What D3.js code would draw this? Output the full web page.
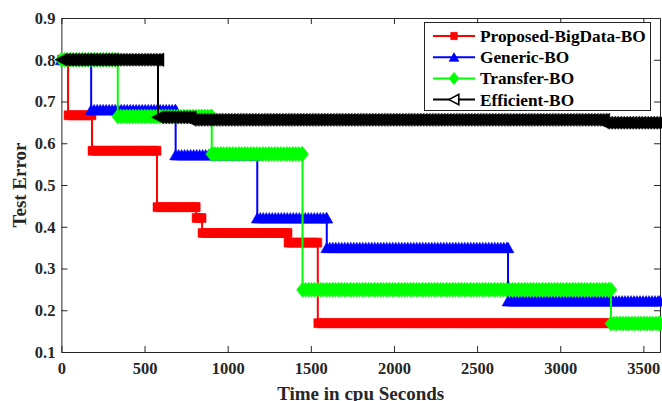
<!DOCTYPE html>
<html>
<head>
<meta charset="utf-8">
<script src="https://cdn.jsdelivr.net/npm/d3@7"></script>
<style>
  body { margin: 0; background: #fff; }
  svg { display: block; font-family: 'Liberation Serif', 'Times New Roman', serif; font-weight: bold; }
</style>
</head>
<body>
<div id="chart"></div>
<script>
// step changes of each run: time (cpu s) where a new best test error starts
const redTimes = [0, 40, 184, 575, 810, 846, 1363, 1542]
const redErrors = [0.80, 0.667, 0.582, 0.447, 0.421, 0.385, 0.362, 0.169]

const blueTimes = [0, 179, 687, 1178, 1596, 2686]
const blueErrors = [0.80, 0.68, 0.572, 0.421, 0.350, 0.222]

const greenTimes = [0, 339, 904, 1450, 3305]
const greenErrors = [0.80, 0.664, 0.574, 0.249, 0.168]

const blackTimes = [0, 581, 775, 3262]
const blackErrors = [0.80, 0.662, 0.656, 0.649]

const endTime = 3600
const xTicks = [0, 500, 1000, 1500, 2000, 2500, 3000, 3500]
const yTicks = [0.1, 0.2, 0.3, 0.4, 0.5, 0.6, 0.7, 0.8, 0.9]

const seriesNames = ['Proposed-BigData-BO', 'Generic-BO', 'Transfer-BO', 'Efficient-BO']

const width = 662
const height = 401
const margin = { top: 18, right: 2, bottom: 49, left: 61.4 }

// marker shapes, centred on 0,0
const markerPaths = {
  square: 'M-4,-4.5H4V4.5H-4Z',
  triangleUp: 'M0,-5.5L6,5L-6,5Z',
  diamond: 'M0,-7.5L6,0L0,7.5L-6,0Z',
  triangleLeft: 'M-6.5,0L6,-6.5L6,6.5Z'
}

const series = [
  { name: seriesNames[0], times: redTimes, errors: redErrors, color: '#ff0000', marker: 'square' },
  { name: seriesNames[1], times: blueTimes, errors: blueErrors, color: '#0000ff', marker: 'triangleUp' },
  { name: seriesNames[2], times: greenTimes, errors: greenErrors, color: '#00ff00', marker: 'diamond' },
  { name: seriesNames[3], times: blackTimes, errors: blackErrors, color: '#000000', marker: 'triangleLeft' }
]

const svg = d3.select('#chart').append('svg')
  .attr('width', width)
  .attr('height', height)

const x = d3.scaleLinear()
  .domain([0, endTime])
  .range([margin.left, width - margin.right])

const y = d3.scaleLinear()
  .domain([0.1, 0.9])
  .range([height - margin.bottom, margin.top])

const axisColor = '#262626'

function styleAxis (g) {
  g.selectAll('path, line').attr('stroke', axisColor)
  g.selectAll('text')
    .attr('fill', axisColor)
    .style('font-size', '16.5px')
    .style('font-weight', 'bold')
    .style('font-family', "'Liberation Serif', 'Times New Roman', serif")
}

// Axes (ticks point inward, box all round)
svg.append('g')
  .attr('transform', `translate(0,${y.range()[0]})`)
  .call(d3.axisBottom(x).tickValues(xTicks).tickSize(-6).tickSizeOuter(0).tickPadding(10).tickFormat(d3.format('d')))
  .call(styleAxis)

svg.append('g')
  .attr('transform', `translate(0,${y.range()[1]})`)
  .call(d3.axisTop(x).tickValues(xTicks).tickSize(-6).tickSizeOuter(0).tickFormat(''))
  .call(styleAxis)

svg.append('g')
  .attr('transform', `translate(${x.range()[0]},0)`)
  .call(d3.axisLeft(y).tickValues(yTicks).tickSize(-6).tickSizeOuter(0).tickPadding(6).tickFormat(d3.format('.1f')))
  .call(styleAxis)

svg.append('g')
  .attr('transform', `translate(${x.range()[1]},0)`)
  .call(d3.axisRight(y).tickValues(yTicks).tickSize(-6).tickSizeOuter(0).tickFormat(''))
  .call(styleAxis)

// Axis titles
svg.append('text')
  .attr('x', (x.range()[0] + x.range()[1]) / 2)
  .attr('y', 399.5)
  .attr('text-anchor', 'middle')
  .attr('fill', axisColor)
  .style('font-size', '19px')
  .text('Time in cpu Seconds')

svg.append('text')
  .attr('transform', `translate(26,${(y.range()[0] + y.range()[1]) / 2}) rotate(-90)`)
  .attr('text-anchor', 'middle')
  .attr('fill', axisColor)
  .style('font-size', '19px')
  .text('Test Error')

// Step lines with dense markers
const line = d3.line()
  .x(d => x(d[0]))
  .y(d => y(d[1]))
  .curve(d3.curveStepAfter)

series.forEach(s => {
  const pts = s.times.map((t, i) => [t, s.errors[i]])
  pts.push([endTime, s.errors[s.errors.length - 1]])

  const g = svg.append('g')

  g.append('path')
    .attr('d', line(pts))
    .attr('fill', 'none')
    .attr('stroke', s.color)
    .attr('stroke-width', 2)

  // marker every few pixels along each level, like the sampled runs
  const marks = []
  for (let i = 0; i < s.times.length; i++) {
    const x0 = x(s.times[i])
    const x1 = x(i + 1 < s.times.length ? s.times[i + 1] : endTime)
    const yy = y(s.errors[i])
    for (let px = x0; px < x1; px += 3) marks.push([px, yy])
    marks.push([x1, yy])
  }

  g.selectAll('path.mark')
    .data(marks)
    .join('path')
    .attr('class', 'mark')
    .attr('d', markerPaths[s.marker])
    .attr('transform', d => `translate(${d[0]},${d[1]})`)
    .attr('fill', s.color)
    .attr('stroke', s.color)
    .attr('stroke-width', 0.5)
})

// Legend
const legend = svg.append('g')
legend.append('rect')
  .attr('x', 424.5)
  .attr('y', 22.5)
  .attr('width', 226)
  .attr('height', 88)
  .attr('fill', '#fff')
  .attr('stroke', axisColor)
  .attr('stroke-width', 1)

series.forEach((s, i) => {
  const cy = 36 + i * 21.2
  legend.append('line')
    .attr('x1', 433)
    .attr('x2', 475)
    .attr('y1', cy)
    .attr('y2', cy)
    .attr('stroke', s.color)
    .attr('stroke-width', 2)
  legend.append('path')
    .attr('d', markerPaths[s.marker])
    .attr('transform', `translate(454,${cy}) scale(0.8)`)
    .attr('fill', s.marker === 'triangleLeft' ? '#fff' : s.color)
    .attr('stroke', s.color)
    .attr('stroke-width', s.marker === 'triangleLeft' ? 2 : 1)
  legend.append('text')
    .attr('x', 480)
    .attr('y', cy + 6)
    .attr('fill', '#000')
    .style('font-size', '17.3px')
    .text(s.name)
})
</script>
</body>
</html>
